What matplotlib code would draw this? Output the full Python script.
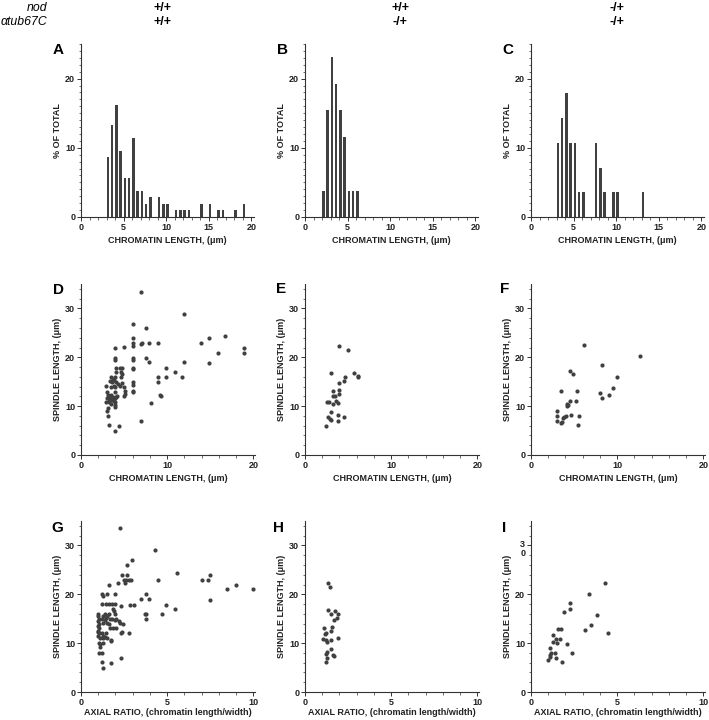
import matplotlib
matplotlib.use('Agg')
import matplotlib.pyplot as plt
import matplotlib.transforms as mtransforms
from matplotlib.ticker import MultipleLocator, FixedLocator

plt.rcParams['font.family'] = ['Liberation Sans', 'DejaVu Sans']

W, H = 709, 720
DARK = '#404040'

# ---- histogram data: chromatin length bins (um) and % of total ----
hist_a_x = [3, 3.5, 4, 4.5, 5, 5.5, 6, 6.5, 7, 7.5, 8, 9, 9.5, 10,
            11, 11.5, 12, 12.5, 14, 15, 16, 16.5, 18, 19]
hist_a_y = [8.6, 13.3, 16.2, 9.5, 5.7, 5.7, 11.4, 3.8, 3.8, 1.9, 2.9, 2.9, 1.9, 1.9,
            1.0, 1.0, 1.0, 1.0, 1.9, 1.9, 1.0, 1.0, 1.0, 1.9]

hist_b_x = [2, 2.5, 3, 3.5, 4, 4.5, 5, 5.5, 6]
hist_b_y = [3.8, 15.4, 23.1, 19.2, 15.4, 11.5, 3.8, 3.8, 3.8]

hist_c_x = [3, 3.5, 4, 4.5, 5, 5.5, 6, 7.5, 8, 8.5, 9.5, 10, 13]
hist_c_y = [10.7, 14.3, 17.9, 10.7, 10.7, 3.6, 3.6, 10.7, 7.1, 3.6, 3.6, 3.6, 3.6]

# ---- D: chromatin length vs spindle length (+/+ , +/+) ----
d_x = [2.9, 3.0, 3.1, 2.9, 3.1, 3.0, 3.1, 3.2, 3.3, 3.5, 3.3, 3.5, 3.4, 3.5, 3.7,
       3.6, 3.8, 3.7, 3.8, 3.9, 4.0, 4.0, 4.0, 4.0, 4.1, 4.1, 4.0, 4.0, 4.1, 4.0,
       4.0, 3.9, 4.1, 4.5, 4.5, 4.6, 4.6, 4.4, 4.8, 5.0, 5.0, 5.0, 5.1, 5.1, 4.8,
       4.8, 3.6, 3.4, 3.9, 4.3, 3.2, 3.0, 3.8, 4.2, 3.5,
       6.0, 6.0, 6.0, 6.0, 6.0, 6.0, 6.0, 6.0, 6.0, 6.0, 6.0, 6.0,
       7.0, 7.0, 7.0, 7.1, 7.5, 7.6, 7.9, 7.9, 8.1, 8.9, 8.9, 8.9, 9.2, 9.3,
       9.9, 9.9, 10.9, 11.7, 11.9, 11.9, 13.9, 14.9, 14.9, 15.9, 16.7, 18.9, 18.9]
d_y = [14.2, 12.9, 12.2, 10.8, 9.7, 9.1, 8.0, 6.1, 12.0, 12.2, 10.8, 13.9, 15.2, 15.9, 15.6,
       14.9, 14.2, 11.8, 11.0, 10.2, 4.9, 21.9, 19.8, 19.4, 17.9, 16.9, 15.9, 13.9, 11.8, 10.8,
       9.8, 12.9, 14.9, 17.9, 14.2, 16.9, 15.9, 5.9, 17.9, 22.1, 13.9, 12.0, 13.2, 12.5, 14.7,
       16.6, 11.2, 11.6, 11.6, 14.5, 11.0, 11.7, 15.3, 12.0, 10.5,
       26.9, 23.9, 23.0, 22.3, 19.8, 19.4, 17.9, 17.6, 14.9, 14.4, 13.2, 12.8,
       33.4, 22.8, 7.0, 23.0, 25.9, 19.8, 19.0, 22.9, 10.7, 22.9, 15.9, 14.9, 12.2, 12.0,
       17.9, 15.9, 16.9, 15.9, 28.9, 19.0, 22.9, 23.9, 18.9, 20.9, 24.3, 21.9, 20.9]

# ---- E: +/+ , -/+ ----
e_x = [2.4, 2.6, 2.8, 2.7, 2.85, 3.0, 3.0, 3.0, 3.2, 3.2, 3.2, 3.5, 3.65, 3.8,
       3.8, 3.8, 4.0, 4.0, 4.0, 4.0, 4.5, 4.5, 4.7, 5.0, 5.7, 6.15, 6.2]
e_y = [6.0, 10.8, 10.8, 7.8, 7.4, 7.1, 8.9, 16.8, 13.1, 12.0, 10.4, 12.1, 11.0, 10.7,
       8.1, 6.9, 22.4, 14.8, 13.4, 12.5, 7.7, 15.2, 16.0, 21.4, 16.7, 16.1, 16.0]

# ---- F: -/+ , -/+ ----
f_x = [3.0, 3.0, 3.0, 3.5, 3.5, 3.6, 3.7, 3.8, 4.1, 4.2, 4.2, 4.3, 4.5, 4.5,
       4.65, 4.85, 5.2, 5.35, 5.45, 5.55, 6.2, 8.0, 8.2, 8.2, 9.0, 9.5, 10.0, 12.7]
f_y = [9.1, 8.0, 7.0, 13.0, 6.6, 6.8, 7.5, 7.7, 7.9, 10.4, 10.0, 10.2, 11.0, 17.1,
       8.1, 16.5, 11.0, 13.0, 6.1, 8.0, 22.6, 12.7, 18.4, 11.6, 12.3, 13.8, 16.0, 20.2]

# ---- G: axial ratio vs spindle length (+/+ , +/+) ----
g_x = [1.0, 1.0, 1.05, 1.0, 1.05, 1.0, 1.05, 1.0, 1.05, 1.0, 1.1, 1.05, 1.1, 1.05, 1.0, 1.1,
       1.2, 1.25, 1.2, 1.25, 1.2, 1.3, 1.2, 1.3, 1.25, 1.3, 1.2, 1.2, 1.3,
       1.45, 1.4, 1.5, 1.45, 1.4, 1.5, 1.45, 1.4, 1.5, 1.5,
       1.6, 1.65, 1.6, 1.7, 1.65, 1.7, 1.75, 1.72,
       1.8, 1.85, 1.9, 1.8, 1.85, 1.75,
       2.0, 2.0, 2.0, 2.05, 2.0, 2.05,
       2.15, 2.3, 2.2, 2.25, 2.3, 2.38, 2.3, 2.29,
       2.4, 2.55, 2.45, 2.5, 2.69, 2.64, 2.8, 2.9, 2.69, 2.98, 2.83, 3.06, 2.79,
       3.47, 3.76, 3.95, 3.7, 3.8, 3.76, 4.28, 4.48, 4.69, 4.96, 5.48, 5.58,
       7.0, 7.4, 7.5, 7.5, 8.5, 9.0, 10.0]
g_y = [16.0, 15.5, 15.0, 14.5, 14.0, 13.5, 13.0, 12.5, 12.0, 11.5, 11.0, 10.0, 9.3, 7.9, 12.2, 9.8,
       20.0, 19.7, 18.0, 15.5, 15.0, 14.2, 12.0, 11.5, 11.0, 10.0, 7.9, 6.2, 5.0,
       18.0, 16.0, 15.5, 15.2, 14.8, 14.2, 12.0, 11.3, 11.0, 20.0,
       22.0, 18.0, 16.0, 15.0, 14.0, 13.0, 10.6, 10.4,
       18.0, 17.0, 16.5, 15.0, 13.0, 5.9,
       20.0, 18.0, 16.0, 15.0, 14.8, 13.0,
       22.3, 17.7, 14.5, 14.2, 12.0, 12.2, 6.9, 33.5,
       24.0, 22.3, 14.0, 23.0, 24.0, 23.0, 23.0, 23.0, 26.0, 27.0, 17.9, 17.9, 12.0,
       19.0, 20.0, 19.0, 16.0, 16.0, 15.0, 29.0, 23.0, 16.0, 17.9, 17.0, 24.4,
       23.0, 23.0, 24.0, 18.9, 21.0, 22.0, 21.0]

# ---- H: +/+ , -/+ ----
h_x = [1.34, 1.48, 1.34, 1.51, 1.76, 1.9, 1.86, 1.67, 1.57, 1.51, 1.09, 1.19, 1.15,
       1.05, 1.19, 1.25, 1.51, 1.93, 1.51, 1.28, 1.19, 1.63, 1.67, 1.3, 1.19]
h_y = [22.4, 21.4, 16.7, 16.0, 16.6, 16.0, 15.2, 14.8, 13.3, 12.5, 13.1, 12.1, 11.8,
       10.9, 10.6, 10.3, 10.6, 11.0, 8.9, 8.1, 7.7, 7.6, 7.4, 6.9, 6.1]

# ---- I: -/+ , -/+ ----
i_x = [4.27, 3.34, 2.26, 2.24, 1.91, 3.84, 1.56, 1.72, 3.46, 3.11, 4.46, 1.27, 1.47,
       1.7, 1.27, 1.51, 2.07, 1.08, 1.37, 1.18, 1.12, 2.37, 1.08, 1.47, 0.98, 1.81]
i_y = [22.4, 20.1, 18.2, 16.9, 16.3, 15.8, 12.9, 12.9, 13.7, 12.7, 12.1, 11.6, 10.9,
       10.9, 10.3, 10.1, 9.9, 9.0, 7.9, 7.9, 7.6, 7.9, 7.1, 6.9, 6.5, 6.1]

genotype_nod = ['+/+', '+/+', '-/+']
genotype_tub = ['+/+', '-/+', '-/+']
panel_letters = ['A', 'B', 'C', 'D', 'E', 'F', 'G', 'H', 'I']

COL_LEFT = [81, 305, 531]
ROWS = [(44, 217), (284, 455), (521, 692)]   # (top, bottom) pixels

LABEL_KW = dict(fontsize=6.5, fontweight='bold', color='#222222')


def make_ax(fig, col, row, width=172):
    top, bottom = ROWS[row]
    left = COL_LEFT[col]
    return fig.add_axes([left / W, 1 - bottom / H, width / W, (bottom - top) / H])


def style_ax(ax):
    for s in ['top', 'right']:
        ax.spines[s].set_visible(False)
    for s in ['left', 'bottom']:
        ax.spines[s].set_linewidth(0.8)
        ax.spines[s].set_color('#333333')
    ax.tick_params(which='major', length=3, width=0.7, pad=1.2, labelsize=6.5,
                   colors='#333333', labelcolor='#222222')
    ax.tick_params(which='minor', length=1.8, width=0.6, colors='#555555')
    for lab in ax.get_xticklabels() + ax.get_yticklabels():
        lab.set_fontweight('bold')


fig = plt.figure(figsize=(W / 100, H / 100), dpi=100)

# header
fig.text(47 / W, 1 - 8 / H, 'nod', ha='right', va='center', fontsize=8.8, style='italic')
fig.text(47 / W, 1 - 22 / H, '\u03b1tub67C', ha='right', va='center', fontsize=8.8,
         style='italic')
for cx, g1, g2 in zip([163, 400, 617], genotype_nod, genotype_tub):
    fig.text(cx / W, 1 - 8 / H, g1, ha='center', va='center', fontsize=9, fontweight='bold')
    fig.text(cx / W, 1 - 22 / H, g2, ha='center', va='center', fontsize=9, fontweight='bold')

# row 1: histograms
hists = [(hist_a_x, hist_a_y), (hist_b_x, hist_b_y), (hist_c_x, hist_c_y)]
for col, (hx, hy) in enumerate(hists):
    ax = make_ax(fig, col, 0, width=173)
    ax.bar(hx, hy, width=0.3, align='edge', color=DARK, linewidth=0)
    ax.set_xlim(0, 20.3)
    ax.set_ylim(0, 25)
    ax.xaxis.set_major_locator(FixedLocator([0, 5, 10, 15, 20]))
    ax.xaxis.set_minor_locator(MultipleLocator(1))
    ax.yaxis.set_major_locator(FixedLocator([0, 10, 20]))
    ax.yaxis.set_minor_locator(MultipleLocator(1))
    style_ax(ax)
    ax.set_xlabel('CHROMATIN LENGTH, (\u03bcm)', labelpad=3, **LABEL_KW)
    ax.set_ylabel('% OF TOTAL', labelpad=2, **LABEL_KW)

# row 2: chromatin length vs spindle length
scat_len = [(d_x, d_y), (e_x, e_y), (f_x, f_y)]
for col, (sx, sy) in enumerate(scat_len):
    ax = make_ax(fig, col, 1, width=174)
    ax.scatter(sx, sy, s=9, color=DARK, linewidths=0)
    ax.set_xlim(0, 20.2)
    ax.set_ylim(0, 35)
    ax.xaxis.set_major_locator(FixedLocator([0, 10, 20]))
    ax.xaxis.set_minor_locator(MultipleLocator(2))
    ax.yaxis.set_major_locator(FixedLocator([0, 10, 20, 30]))
    ax.yaxis.set_minor_locator(MultipleLocator(2))
    style_ax(ax)
    ax.set_xlabel('CHROMATIN LENGTH, (\u03bcm)', labelpad=3, **LABEL_KW)
    ax.set_ylabel('SPINDLE LENGTH, (\u03bcm)', labelpad=2, **LABEL_KW)

# row 3: axial ratio vs spindle length
scat_ratio = [(g_x, g_y), (h_x, h_y), (i_x, i_y)]
for col, (sx, sy) in enumerate(scat_ratio):
    ax = make_ax(fig, col, 2, width=174)
    ax.scatter(sx, sy, s=9, color=DARK, linewidths=0)
    ax.set_xlim(0, 10.1)
    ax.set_ylim(0, 35)
    ax.xaxis.set_major_locator(FixedLocator([0, 5, 10]))
    ax.xaxis.set_minor_locator(MultipleLocator(1))
    ax.yaxis.set_major_locator(FixedLocator([0, 10, 20, 30]))
    ax.yaxis.set_minor_locator(MultipleLocator(2))
    style_ax(ax)
    if col == 2:
        # the original figure breaks this label over two lines
        ax.set_yticklabels(['0', '10', '20', '3\n0'], fontweight='bold', linespacing=0.95)
        lab30 = ax.get_yticklabels()[-1]
        lab30.set_va('top')
        lab30.set_transform(lab30.get_transform() + mtransforms.ScaledTranslation(
            0, 4 / 72, fig.dpi_scale_trans))
    ax.set_xlabel('AXIAL RATIO, (chromatin length/width)', labelpad=0.5, **LABEL_KW)
    ax.set_ylabel('SPINDLE LENGTH, (\u03bcm)', labelpad=2, **LABEL_KW)

# panel letters
letter_pos = [(58, 50), (283, 50), (508, 50),
              (58, 290), (281, 289), (505, 289),
              (57, 528), (279, 528), (504, 528)]
for letter, (px, py) in zip(panel_letters, letter_pos):
    fig.text(px / W, 1 - py / H, letter, ha='center', va='center', fontsize=11,
             fontweight='bold')

fig.savefig('out.png', dpi=100)
